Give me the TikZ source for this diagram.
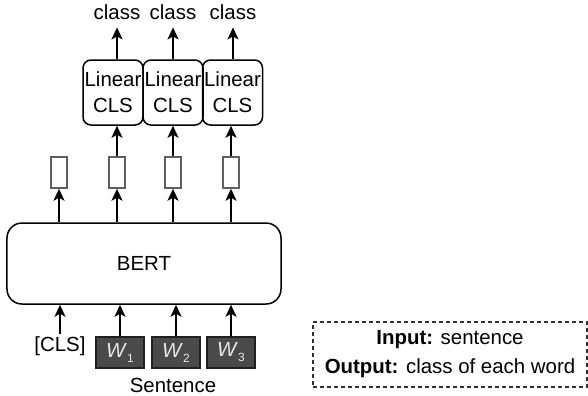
\documentclass[tikz,border=0pt]{standalone}
\usepackage{fontspec}
\setmainfont{Liberation Sans}
\usetikzlibrary{arrows.meta}
\definecolor{wordfill}{HTML}{4A4A4A}
\definecolor{wordline}{HTML}{202020}
\definecolor{wordtext}{HTML}{E6E6E6}
\definecolor{vecline}{HTML}{606060}
\definecolor{noteline}{HTML}{303030}
\newcommand{\wsub}[1]{\textit{W}\raisebox{-5bp}{\fontsize{12}{12}\selectfont #1}}
\begin{document}
\begin{tikzpicture}[x=1bp,y=-1bp,
  font=\fontsize{20.5}{26}\selectfont,
  arr/.style={-{Stealth[length=12bp,width=11bp,inset=3bp]}, line width=1.8bp},
  linbox/.style={draw, rounded corners=8bp, line width=1.5bp,
    minimum width=60bp, minimum height=65bp, align=center, inner sep=0pt},
  vecbox/.style={draw=vecline, line width=1.4bp, minimum width=16bp,
    minimum height=31bp, inner sep=0pt},
  wordbox/.style={draw=wordline, fill=wordfill, line width=1.4bp, minimum width=48bp,
    minimum height=31bp, inner sep=0pt, text=wordtext},
  lbl/.style={inner sep=0pt, anchor=base},
]
\useasboundingbox (0,0) rectangle (588,395);

% classification heads
\node[linbox] (l1) at (113,92.5) {Linear\\CLS};
\node[linbox] (l2) at (173,92.5) {Linear\\CLS};
\node[linbox] (l3) at (232.5,92.5) {Linear\\CLS};

% class outputs
\node[lbl] (c1) at (117,19) {class};
\node[lbl] (c2) at (173,19) {class};
\node[lbl] (c3) at (233,19) {class};
\foreach \i in {1,2,3}
  \draw[arr, shorten >=8bp] (l\i.north -| c\i.south) -- (c\i.south);

% token embeddings
\node[vecbox] (r0) at (59,172.5) {};
\node[vecbox] (r1) at (117,172.5) {};
\node[vecbox] (r2) at (173,172.5) {};
\node[vecbox] (r3) at (231,172.5) {};
\foreach \i/\j in {1/1,2/2,3/3}
  \draw[arr] (r\i.north) -- (r\i.north |- l\j.south);

% encoder
\node[draw, rounded corners=15bp, line width=1.5bp, minimum width=274bp,
  minimum height=81bp] (bert) at (144,263.5) {BERT};
\foreach \i in {0,1,2,3}
  \draw[arr] (bert.north -| r\i) -- (r\i.south);

% inputs
\node[inner sep=2pt] (cls) at (60,346) {[CLS]};
\node[wordbox] (w1) at (120,352.5) {\wsub{1}};
\node[wordbox] (w2) at (176,352.5) {\wsub{2}};
\node[wordbox] (w3) at (231,352.5) {\wsub{3}};
\draw[arr] (cls.north) -- (cls.north |- bert.south);
\foreach \i in {1,2,3}
  \draw[arr] (w\i.north) -- (w\i.north |- bert.south);
\node (sent) at (173,385) {Sentence};

% task description
\node[draw=noteline, dashed, dash pattern=on 4bp off 3bp, line width=1.4bp,
  minimum width=274bp, minimum height=65bp, align=center,
  font=\fontsize{20.5}{29}\selectfont] (note) at (450,354.5)
  {\textbf{Input:} sentence\\\textbf{Output:} class of each word};
\end{tikzpicture}
\end{document}
